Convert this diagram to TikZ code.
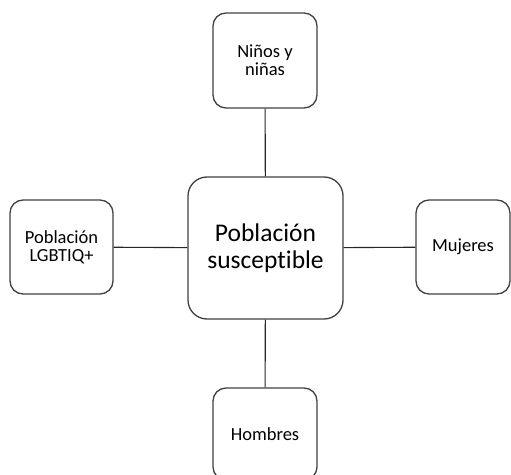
\documentclass[tikz,border=0pt]{standalone}
\usepackage{fontspec}
\setmainfont[RawFeature=-liga]{Carlito}
\usetikzlibrary{positioning}
\tikzset{
  box/.style={draw=black!75, line width=1.3pt, rounded corners=13pt, align=center,
    inner sep=0pt, font=\fontsize{18.5}{18}\selectfont, minimum width=104pt, minimum height=95pt},
  bigbox/.style={box, rounded corners=19pt, font=\fontsize{25.5}{27}\selectfont,
    minimum width=155pt, minimum height=142pt},
  link/.style={draw=black!85, line width=1.1pt}
}

\begin{document}
\begin{tikzpicture}[x=1pt,y=1pt]
	%%%%% START %%%%%
	\useasboundingbox (0,0) rectangle (511,474);
	
	\node[bigbox] (poblacion) at (265.5, 226) {Población\\susceptible};
	
	\node[box] (ninos) at (265, 413.5) {Niños y\\niñas};
	\node[box, minimum width=103pt, minimum height=94pt] (lgbtiq) at (61.5, 227) {Población\\LGBTIQ+};
	\node[box, minimum width=94pt, minimum height=94pt] (mujeres) at (463, 227) {Mujeres};
	\node[box, minimum height=92pt] (hombres) at (265, 40) {Hombres};
	
	\draw[link] (poblacion) -- (ninos);
	\draw[link] (poblacion) -- (lgbtiq);
	\draw[link] (poblacion) -- (mujeres);
	\draw[link] (poblacion) -- (hombres);
	%%%%% END %%%%%
\end{tikzpicture}
\end{document}
